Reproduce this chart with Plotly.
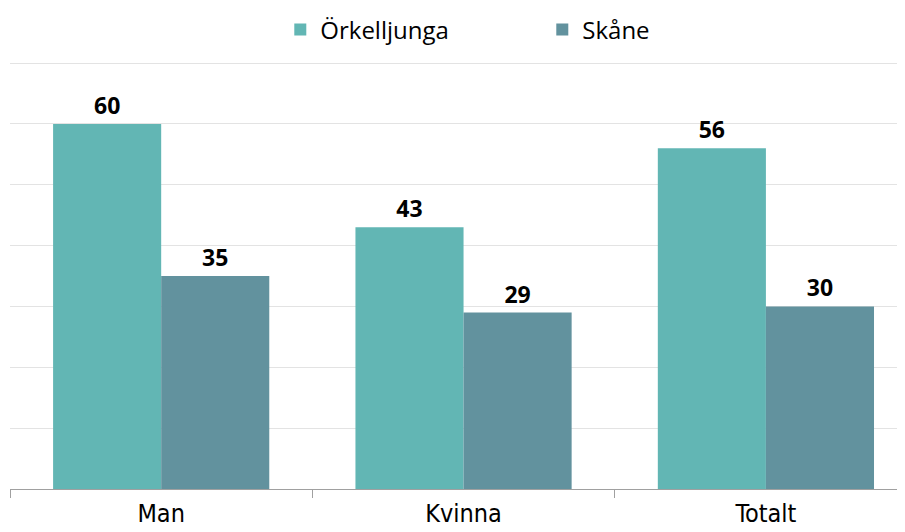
import plotly.graph_objects as go

categories = ["Man", "Kvinna", "Totalt"]
orkelljunga = [60, 43, 56]
skane = [35, 29, 30]
series_names = ["Örkelljunga", "Skåne"]

label_font = dict(family="Open Sans", size=23, color="#000000", weight="bold")

fig = go.Figure()
fig.add_trace(go.Bar(
    name=series_names[0], x=categories, y=orkelljunga,
    marker=dict(color="#62B6B4", line=dict(width=0)),
    text=orkelljunga, textposition="outside", textfont=label_font,
    cliponaxis=False,
))
fig.add_trace(go.Bar(
    name=series_names[1], x=categories, y=skane,
    marker=dict(color="#62929E", line=dict(width=0)),
    text=skane, textposition="outside", textfont=label_font,
    cliponaxis=False,
))

fig.update_layout(
    width=897, height=524,
    margin=dict(l=2, r=0, t=52, b=43, autoexpand=False),
    plot_bgcolor="white", paper_bgcolor="white",
    barmode="group", bargap=0.285, bargroupgap=0,
    showlegend=True,
    legend=dict(orientation="h", x=0.302, xanchor="left", y=1.07, yanchor="middle",
                font=dict(family="Open Sans", size=24, color="#000000"),
                traceorder="normal", entrywidth=217),
    xaxis=dict(range=[-0.5, 2.46], tickson="boundaries", ticks="outside", ticklen=8,
               tickcolor="#A0A0A0", showline=True, linecolor="#A0A0A0", linewidth=1,
               tickfont=dict(family="DejaVu Sans Condensed, Liberation Sans Narrow, Liberation Sans", size=25, color="#000000"),
               ticklabelstandoff=2,
               showgrid=False, automargin=False),
    yaxis=dict(range=[0, 70.5], tick0=0, dtick=10, showticklabels=False, showgrid=True,
               gridcolor="#E3E3E3", gridwidth=1, zeroline=False, showline=False),
)

fig.write_html("out.html")
